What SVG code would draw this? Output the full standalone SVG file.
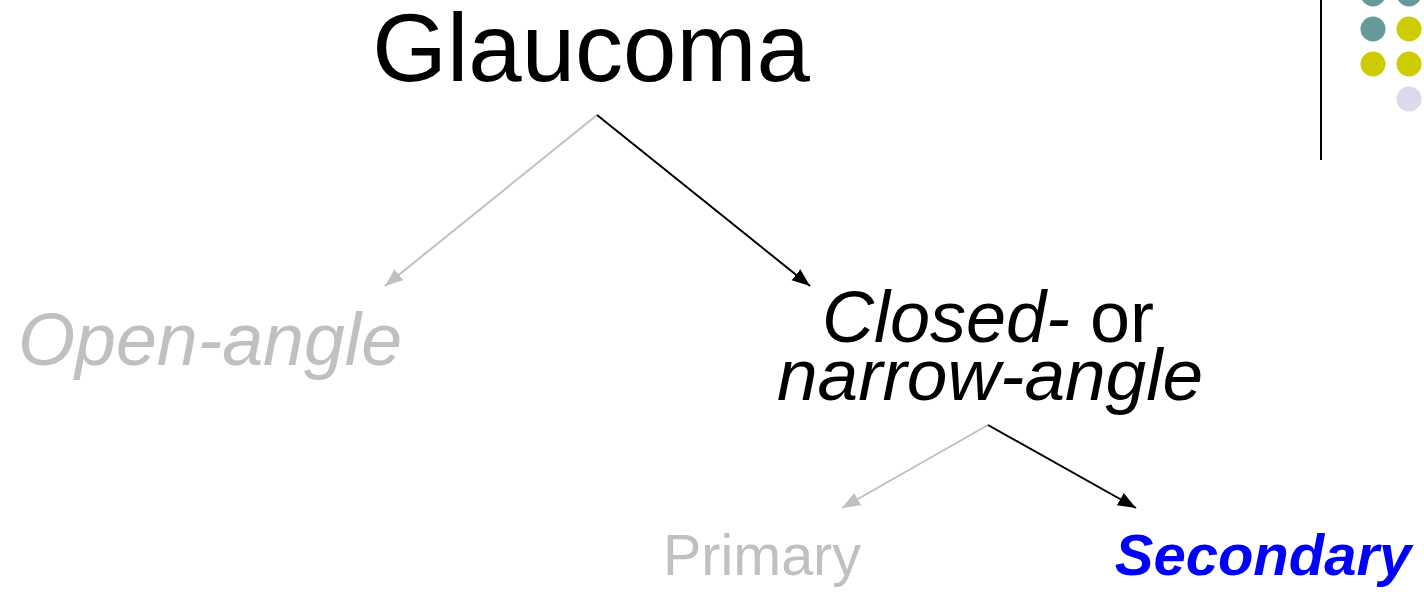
<svg xmlns="http://www.w3.org/2000/svg" width="1424" height="592" viewBox="0 0 1424 592">
<style>
text{font-family:"Liberation Sans",Arial,sans-serif;text-anchor:middle}
.gray{fill:#C0C0C0}
.blk{fill:#000}
.it{font-style:italic}
.cg{stroke:#C0C0C0;stroke-width:2;fill:none}
.cb{stroke:#000;stroke-width:2;fill:none}
</style>
<defs>
<marker id="ag" markerUnits="userSpaceOnUse" markerWidth="20" markerHeight="16" refX="18" refY="7" orient="auto"><path d="M0,0 L18,7 L0,14 z" fill="#C0C0C0"/></marker>
<marker id="ab" markerUnits="userSpaceOnUse" markerWidth="20" markerHeight="16" refX="18" refY="7" orient="auto"><path d="M0,0 L18,7 L0,14 z" fill="#000"/></marker>
</defs>
<rect width="1424" height="592" fill="#fff"/>
<g id="decor">
<line x1="1321" y1="0" x2="1321" y2="160" stroke="#000" stroke-width="2"/>
<circle cx="1373" cy="-6" r="12.5" fill="#669999"/>
<circle cx="1409" cy="-6" r="12.5" fill="#669999"/>
<circle cx="1373" cy="29" r="12.5" fill="#669999"/>
<circle cx="1409" cy="29" r="12.5" fill="#CCCC00"/>
<circle cx="1373" cy="64" r="12.5" fill="#CCCC00"/>
<circle cx="1409" cy="64" r="12.5" fill="#CCCC00"/>
<circle cx="1409" cy="99" r="12.5" fill="#DADAEC"/>
</g>
<g id="connectors">
<line class="cg" x1="597" y1="115" x2="385" y2="286" marker-end="url(#ag)"/>
<line class="cb" x1="597" y1="115" x2="810" y2="286" marker-end="url(#ab)"/>
<line class="cg" x1="988" y1="425" x2="842" y2="508" marker-end="url(#ag)"/>
<line class="cb" x1="988" y1="425" x2="1136" y2="508" marker-end="url(#ab)"/>
</g>
<g id="glaucoma"><text x="591" y="81" font-size="96" class="blk">Glaucoma</text></g>
<g id="open-angle"><text x="210" y="365" font-size="73.5" class="gray it">Open-angle</text></g>
<g id="closed-angle"><text x="988" y="342" font-size="72" class="blk"><tspan class="it">Closed-</tspan> or</text><text x="990" y="400" font-size="73" class="blk it">narrow-angle</text></g>
<g id="primary"><text x="762" y="575" font-size="57.5" class="gray">Primary</text></g>
<g id="secondary"><text x="1263" y="575" font-size="58" font-weight="bold" class="it" fill="#0000FF">Secondary</text></g>
</svg>
